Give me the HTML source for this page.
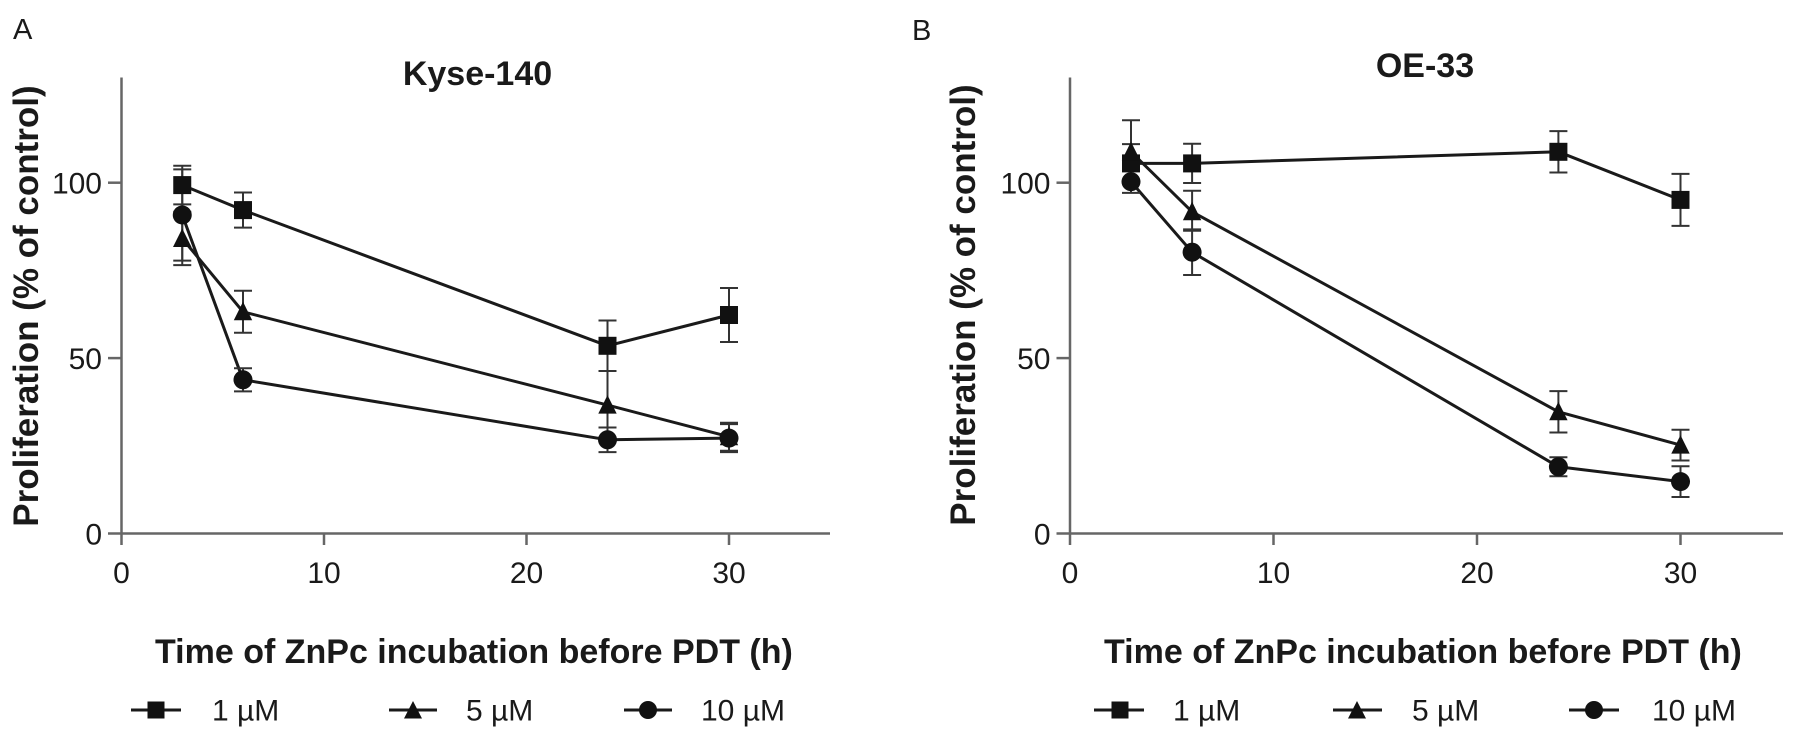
<!DOCTYPE html>
<html>
<head>
<meta charset="utf-8">
<style>
  html,body{margin:0;padding:0;background:#fff;}
  svg{display:block;}
  text{font-family:"Liberation Sans",Arial,sans-serif;fill:#1a1a1a;}
  .tick{font-size:30px;}
  .bold{font-weight:bold;}
  .ax{stroke:#666;stroke-width:2.5;fill:none;}
  .ser{stroke:#1a1a1a;stroke-width:3;fill:none;stroke-linejoin:round;}
  .err{stroke:#333;stroke-width:2;fill:none;}
  .mk{fill:#111;stroke:none;}
</style>
</head>
<body>
<svg width="1795" height="744" viewBox="0 0 1795 744" xmlns="http://www.w3.org/2000/svg">
<rect width="1795" height="744" fill="#fff"/>

<!-- Panel letters -->
<text x="13" y="39" font-size="29">A</text>
<text x="912" y="40" font-size="29">B</text>

<!-- ================= PANEL A ================= -->
<g id="panelA">
  <line class="ax" x1="121.5" y1="77.5" x2="121.5" y2="545"/>
  <line class="ax" x1="108" y1="533.5" x2="830" y2="533.5"/>
  <line class="ax" x1="108" y1="182.7" x2="121.5" y2="182.7"/>
  <line class="ax" x1="108" y1="358.1" x2="121.5" y2="358.1"/>
  <line class="ax" x1="324" y1="533.5" x2="324" y2="545"/>
  <line class="ax" x1="526.5" y1="533.5" x2="526.5" y2="545"/>
  <line class="ax" x1="729" y1="533.5" x2="729" y2="545"/>
  <text class="tick" x="102" y="193.5" text-anchor="end">100</text>
  <text class="tick" x="102" y="369" text-anchor="end">50</text>
  <text class="tick" x="102" y="544.5" text-anchor="end">0</text>
  <text class="tick" x="121.5" y="583" text-anchor="middle">0</text>
  <text class="tick" x="324" y="583" text-anchor="middle">10</text>
  <text class="tick" x="526.5" y="583" text-anchor="middle">20</text>
  <text class="tick" x="729" y="583" text-anchor="middle">30</text>
  <text class="bold" x="477.5" y="85" font-size="34" text-anchor="middle">Kyse-140</text>
  <text class="bold" font-size="35" text-anchor="middle" transform="translate(38,306) rotate(-90)">Proliferation (% of control)</text>
  <text class="bold" x="155" y="663" font-size="34">Time of ZnPc incubation before PDT (h)</text>

  <polyline class="ser" points="182.25,185.1 243,210.1 607.5,345.8 729,315"/>
  <polyline class="ser" points="182.25,238.5 243,311.8 607.5,405.1 729,436.7"/>
  <polyline class="ser" points="182.25,215 243,379.8 607.5,439.8 729,438.1"/>

  <g class="err">
    <path d="M182.25,165.8V204.4M173.25,165.8h18M173.25,204.4h18"/>
    <path d="M243,192.5V227.6M234,192.5h18M234,227.6h18"/>
    <path d="M607.5,320.5V371M598.5,320.5h18M598.5,371h18"/>
    <path d="M729,288V342M720,288h18M720,342h18"/>
    <path d="M182.25,211.8V265.1M173.25,211.8h18M173.25,265.1h18"/>
    <path d="M243,290.8V332.8M234,290.8h18M234,332.8h18"/>
    <path d="M607.5,371V439.1M598.5,371h18M598.5,439.1h18"/>
    <path d="M729,422.7V450.8M720,422.7h18M720,450.8h18"/>
    <path d="M182.25,169.4V260.6M173.25,169.4h18M173.25,260.6h18"/>
    <path d="M243,368.2V391.4M234,368.2h18M234,391.4h18"/>
    <path d="M607.5,427.5V452.1M598.5,427.5h18M598.5,452.1h18"/>
    <path d="M729,424.1V452.1M720,424.1h18M720,452.1h18"/>
  </g>

  <g class="mk">
    <rect x="173.25" y="176.1" width="18" height="18"/>
    <rect x="234" y="201.1" width="18" height="18"/>
    <rect x="598.5" y="336.8" width="18" height="18"/>
    <rect x="720" y="306" width="18" height="18"/>
    <polygon points="182.25,228.5 191.5,247 173,247"/>
    <polygon points="243,301.8 252.2,320.3 233.8,320.3"/>
    <polygon points="607.5,395.1 616.7,413.6 598.3,413.6"/>
    <polygon points="729,426.7 738.2,445.2 719.8,445.2"/>
    <circle cx="182.25" cy="215" r="9.5"/>
    <circle cx="243" cy="379.8" r="9.5"/>
    <circle cx="607.5" cy="439.8" r="9.5"/>
    <circle cx="729" cy="438.1" r="9.5"/>
  </g>

  <line class="ser" x1="131" y1="710" x2="181" y2="710"/>
  <rect class="mk" x="147.5" y="701.5" width="17" height="17"/>
  <text x="212" y="720.5" font-size="30">1 µM</text>
  <line class="ser" x1="389" y1="710" x2="437" y2="710"/>
  <polygon class="mk" points="413,701 422,718.5 404,718.5"/>
  <text x="466" y="720.5" font-size="30">5 µM</text>
  <line class="ser" x1="624" y1="710" x2="672" y2="710"/>
  <circle class="mk" cx="648" cy="710" r="9"/>
  <text x="701" y="720.5" font-size="30">10 µM</text>
</g>

<!-- ================= PANEL B ================= -->
<g id="panelB">
  <line class="ax" x1="1070" y1="77.5" x2="1070" y2="545"/>
  <line class="ax" x1="1056.5" y1="533.5" x2="1783" y2="533.5"/>
  <line class="ax" x1="1056.5" y1="182.7" x2="1070" y2="182.7"/>
  <line class="ax" x1="1056.5" y1="358.1" x2="1070" y2="358.1"/>
  <line class="ax" x1="1273.5" y1="533.5" x2="1273.5" y2="545"/>
  <line class="ax" x1="1477" y1="533.5" x2="1477" y2="545"/>
  <line class="ax" x1="1680.5" y1="533.5" x2="1680.5" y2="545"/>
  <text class="tick" x="1050.5" y="193.5" text-anchor="end">100</text>
  <text class="tick" x="1050.5" y="369" text-anchor="end">50</text>
  <text class="tick" x="1050.5" y="544.5" text-anchor="end">0</text>
  <text class="tick" x="1070" y="583" text-anchor="middle">0</text>
  <text class="tick" x="1273.5" y="583" text-anchor="middle">10</text>
  <text class="tick" x="1477" y="583" text-anchor="middle">20</text>
  <text class="tick" x="1680.5" y="583" text-anchor="middle">30</text>
  <text class="bold" x="1425" y="77" font-size="34" text-anchor="middle">OE-33</text>
  <text class="bold" font-size="35" text-anchor="middle" transform="translate(975,305) rotate(-90)">Proliferation (% of control)</text>
  <text class="bold" x="1104" y="663" font-size="34">Time of ZnPc incubation before PDT (h)</text>

  <polyline class="ser" points="1131,163.4 1192.1,163.4 1558.4,151.8 1680.5,199.9"/>
  <polyline class="ser" points="1131,151.8 1192.1,211.8 1558.4,411.8 1680.5,445.1"/>
  <polyline class="ser" points="1131,181.7 1192.1,252.2 1558.4,466.8 1680.5,481.6"/>

  <g class="err">
    <path d="M1131,144.1V182.7M1122,144.1h18M1122,182.7h18"/>
    <path d="M1192.1,143.8V183M1183.1,143.8h18M1183.1,183h18"/>
    <path d="M1558.4,131.1V172.5M1549.4,131.1h18M1549.4,172.5h18"/>
    <path d="M1680.5,173.9V225.9M1671.5,173.9h18M1671.5,225.9h18"/>
    <path d="M1131,120.2V183.4M1122,120.2h18M1122,183.4h18"/>
    <path d="M1192.1,190.7V230.8M1183.1,190.7h18M1183.1,230.8h18"/>
    <path d="M1558.4,391.1V432.5M1549.4,391.1h18M1549.4,432.5h18"/>
    <path d="M1680.5,429.7V460.5M1671.5,429.7h18M1671.5,460.5h18"/>
    <path d="M1131,170.5V192.9M1122,170.5h18M1122,192.9h18"/>
    <path d="M1192.1,229.4V275M1183.1,229.4h18M1183.1,275h18"/>
    <path d="M1558.4,457.3V476.3M1549.4,457.3h18M1549.4,476.3h18"/>
    <path d="M1680.5,466.2V497M1671.5,466.2h18M1671.5,497h18"/>
  </g>

  <g class="mk">
    <rect x="1122" y="154.4" width="18" height="18"/>
    <rect x="1183.1" y="154.4" width="18" height="18"/>
    <rect x="1549.4" y="142.8" width="18" height="18"/>
    <rect x="1671.5" y="190.9" width="18" height="18"/>
    <polygon points="1131,141.8 1140.2,160.3 1121.8,160.3"/>
    <polygon points="1192.1,201.8 1201.3,220.3 1182.9,220.3"/>
    <polygon points="1558.4,401.8 1567.6,420.3 1549.2,420.3"/>
    <polygon points="1680.5,435.1 1689.7,453.6 1671.3,453.6"/>
    <circle cx="1131" cy="181.7" r="9.5"/>
    <circle cx="1192.1" cy="252.2" r="9.5"/>
    <circle cx="1558.4" cy="466.8" r="9.5"/>
    <circle cx="1680.5" cy="481.6" r="9.5"/>
  </g>

  <line class="ser" x1="1094" y1="710" x2="1144" y2="710"/>
  <rect class="mk" x="1111.5" y="701.5" width="17" height="17"/>
  <text x="1173" y="720.5" font-size="30">1 µM</text>
  <line class="ser" x1="1333" y1="710" x2="1382" y2="710"/>
  <polygon class="mk" points="1357,701 1366,718.5 1348,718.5"/>
  <text x="1412" y="720.5" font-size="30">5 µM</text>
  <line class="ser" x1="1569" y1="710" x2="1619" y2="710"/>
  <circle class="mk" cx="1594" cy="710" r="9"/>
  <text x="1652" y="720.5" font-size="30">10 µM</text>
</g>
</svg>
</body>
</html>
